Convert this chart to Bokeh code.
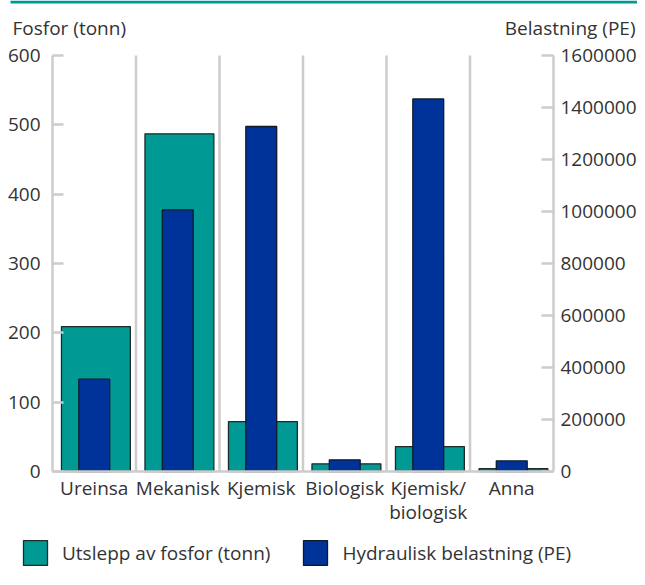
from bokeh.plotting import figure
from bokeh.models import (Range1d, LinearAxis, FixedTicker, NumeralTickFormatter,
                          BoxAnnotation, Label, Legend, LegendItem, ColumnDataSource)
from bokeh.embed import file_html
from bokeh.resources import INLINE

# ---- data ----
categories = ["Ureinsa", "Mekanisk", "Kjemisk", "Biologisk", "Kjemisk/\nbiologisk", "Anna"]
fosfor_tonn = [209, 487, 72, 11, 36, 4]
belastning_pe = [355000, 1006000, 1327000, 45000, 1433000, 41000]
fosfor_ticks = [0, 100, 200, 300, 400, 500, 600]
pe_ticks = [0, 200000, 400000, 600000, 800000, 1000000, 1200000, 1400000, 1600000]
series_names = ["Utslepp av fosfor (tonn)", "Hydraulisk belastning (PE)"]
axis_titles = ["Fosfor (tonn)", "Belastning (PE)"]

TEAL = "#009994"
BLUE = "#003399"
GRAY = "#cccccc"
TXT = "#333333"
FONT = "Open Sans"
FS_WORD = "19px"
FS_NUM = "19px"

# ---- layout (pixels inside the figure) ----
W, H = 637, 577
FL, FR = 52, 553          # category block left/right
Y_TOP, Y_ZERO = 55, 471   # pixel rows of top tick and zero
n = len(categories)
ppc = (FR - FL) / n
x0 = -FL / ppc
x1 = n + (W - FR) / ppc
fmax = fosfor_ticks[-1]
ppu = (Y_ZERO - Y_TOP) / fmax
ytop = fmax + Y_TOP / ppu
ybot = -(H - Y_ZERO) / ppu
scale_pe = pe_ticks[-1] / fmax

def dx(px):
    return x0 + px / ppc

def dy(py):
    return ytop - py / ppu

xpos = [i + 0.5 for i in range(n)]
src = ColumnDataSource(dict(x=xpos, xt=[v + 0.02 for v in xpos], fosfor=fosfor_tonn, pe=belastning_pe))

p = figure(x_range=Range1d(x0, x1), y_range=Range1d(ybot, ytop),
           width=W, height=H, output_backend="svg", toolbar_location=None,
           min_border=0)
p.extra_y_ranges = {"pe": Range1d(ybot * scale_pe, ytop * scale_pe)}
p.outline_line_color = None
p.grid.visible = False

# top rule
p.add_layout(BoxAnnotation(left=dx(10), right=dx(W), top=dy(0), bottom=dy(3),
                           fill_color=TEAL, fill_alpha=1, line_color=None))

# separators between categories
p.segment(x0=list(range(1, n)), y0=0, x1=list(range(1, n)), y1=fmax,
          line_color=GRAY, line_width=2.5)

r1 = p.vbar(x="xt", top="fosfor", width=0.825, source=src,
            fill_color=TEAL, line_color="#1e2a2a", line_width=1.3)
r2 = p.vbar(x="x", top="pe", width=0.37, source=src, y_range_name="pe",
            fill_color=BLUE, line_color="#111a2a", line_width=1.3)

# left axis
ya = p.yaxis[0]
ya.fixed_location = 0
ya.bounds = (fosfor_ticks[0], fosfor_ticks[-1])
ya.ticker = FixedTicker(ticks=fosfor_ticks)
ya.major_tick_in = 11
ya.major_tick_out = 0
ya.major_label_standoff = 12

# right axis
ra = LinearAxis(y_range_name="pe", ticker=FixedTicker(ticks=pe_ticks),
                formatter=NumeralTickFormatter(format="0"))
ra.fixed_location = n
ra.bounds = (pe_ticks[0], pe_ticks[-1])
ra.major_tick_in = 12
ra.major_tick_out = 0
ra.major_label_standoff = 7
p.add_layout(ra, "right")

for ax in [ya, ra]:
    ax.minor_tick_line_color = None
    ax.axis_line_color = GRAY
    ax.axis_line_width = 2.5
    ax.major_tick_line_color = GRAY
    ax.major_tick_line_width = 2.5
    ax.major_label_text_font = FONT
    ax.major_label_text_font_size = FS_NUM
    ax.major_label_text_color = TXT

xa = p.xaxis[0]
xa.fixed_location = 0
xa.bounds = (0, n)
xa.ticker = FixedTicker(ticks=xpos)
xa.major_label_overrides = {v: c for v, c in zip(xpos, categories)}
xa.axis_line_color = GRAY
xa.axis_line_width = 2.5
xa.major_tick_line_color = None
xa.minor_tick_line_color = None
xa.major_tick_in = 0
xa.major_tick_out = 0
xa.major_label_standoff = 3
xa.major_label_text_font = FONT
xa.major_label_text_font_size = FS_WORD
xa.major_label_text_color = TXT
xa.major_label_text_line_height = 0.93

# axis titles
p.add_layout(Label(x=dx(12), y=dy(27), text=axis_titles[0],
                   text_font=FONT, text_font_size=FS_WORD, text_color=TXT,
                   text_baseline="middle", text_align="left"))
p.add_layout(Label(x=dx(635), y=dy(27), text=axis_titles[1],
                   text_font=FONT, text_font_size=FS_WORD, text_color=TXT,
                   text_baseline="middle", text_align="right"))

legend = Legend(items=[LegendItem(label=series_names[0], renderers=[r1]),
                       LegendItem(label=series_names[1], renderers=[r2])],
                location=(20, H - 568), orientation="horizontal",
                glyph_width=30, glyph_height=31, label_standoff=12, spacing=30,
                padding=0, margin=0, border_line_color=None, background_fill_alpha=0,
                label_text_font=FONT, label_text_font_size=FS_WORD, label_text_color=TXT)
p.add_layout(legend)

open("out.html", "w").write(file_html(p, INLINE))
